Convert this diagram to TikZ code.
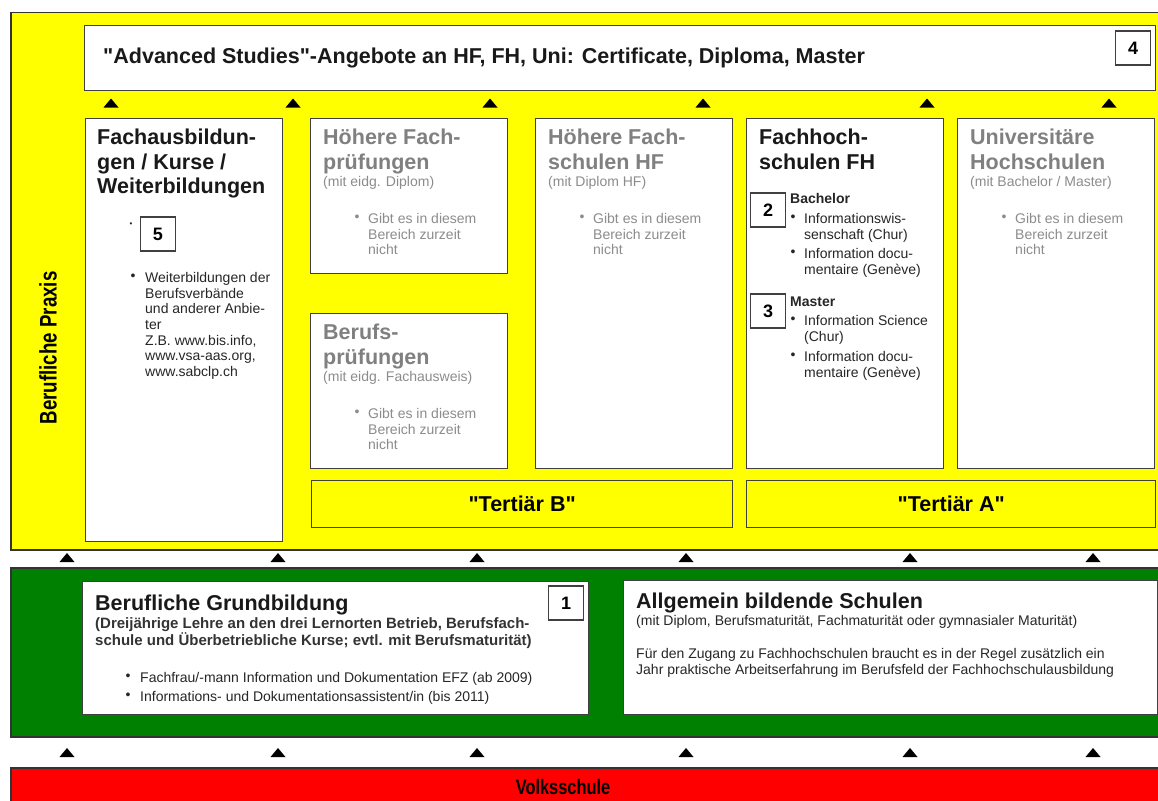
\documentclass[tikz,border=0pt]{standalone}
\usepackage{fontspec}
\setmainfont{Liberation Sans}[Ligatures=TeXOff]
\newfontfamily\narrowfont{Liberation Sans}[FakeStretch=0.78]
\usetikzlibrary{calc}
\definecolor{gelb}{HTML}{FFFF00}
\definecolor{gruen}{HTML}{008000}
\definecolor{rot}{HTML}{FF0000}
\newcommand{\fTtl}{\fontsize{21.5}{24.5}\selectfont\bfseries}
\newcommand{\fTxt}{\fontsize{14}{15.7}\selectfont}
\newcommand{\fTxtB}{\fontsize{14}{15.7}\selectfont\bfseries}
\newcommand{\fSubB}{\fontsize{15}{17}\selectfont\bfseries}
\newcommand{\fNum}{\fontsize{18}{18}\selectfont\bfseries}
\tikzset{band/.style={draw=black!80,line width=1.5pt,anchor=north west,inner sep=0pt},
  panel/.style={draw=black!75,line width=1.3pt,fill=white,anchor=north west,inner sep=0pt},
  numbox/.style={draw=black!75,line width=1.1pt,fill=white,minimum width=35pt,minimum height=34pt,inner sep=0pt,font=\fNum},
  ttl/.style={anchor=north west,align=left,inner sep=0pt,font=\fTtl,text=black!90},
  gttl/.style={ttl,text=black!50},
  txt/.style={anchor=north west,align=left,inner sep=0pt,font=\fTxt,text=black!85},
  gtxt/.style={txt,text=black!45},
  dot/.style={inner sep=0pt,font=\fTxt,text=black!85}}

\begin{document}
\begin{tikzpicture}[x=1pt,y=-1pt]
  \clip (0,0) rectangle (1158,800);

  % the three levels
  \node[band,fill=gelb,minimum width=1170pt,minimum height=537pt] (tert) at (10,12) {};
  \node[band,fill=gruen,minimum width=1170pt,minimum height=169pt] (sek) at (10,567) {};
  \node[band,fill=rot,minimum width=1170pt,minimum height=60pt] (volk) at (10,767) {};
  \node[rotate=90,font=\narrowfont\fontsize{24}{24}\selectfont\bfseries] (praxis) at (48,348) {Berufliche Praxis};
  \node[font=\narrowfont\fontsize{21}{21}\selectfont\bfseries] (volk-t) at (563,787) {Volksschule};

  % advanced studies
  \node[panel,minimum width=1071pt,minimum height=65pt] (adv) at (84,25) {};
  \node[ttl,anchor=west] (adv-t) at ($(adv.west)+(19,0)$) {"Advanced Studies"-Angebote an HF, FH, Uni: Certificate, Diploma, Master};
  \node[numbox] (n4) at (1133,48) {4};

  % tertiary boxes
  \node[panel,minimum width=197pt,minimum height=423pt] (fab) at (85,118) {};
  \node[panel,minimum width=197pt,minimum height=155pt] (hfp) at (310,118) {};
  \node[panel,minimum width=197pt,minimum height=155pt] (bp) at (310,313) {};
  \node[panel,minimum width=197pt,minimum height=350pt] (hf) at (535,118) {};
  \node[panel,minimum width=197pt,minimum height=350pt] (fh) at (746,118) {};
  \node[panel,minimum width=197pt,minimum height=350pt] (uni) at (957,118) {};
  \node[panel,fill=gelb,minimum width=421pt,minimum height=47pt] (terB) at (311,480) {};
  \node[panel,fill=gelb,minimum width=409pt,minimum height=47pt] (terA) at (746,480) {};
  \node[font=\fTtl] (terB-t) at (terB) {"Tertiär B"};
  \node[font=\fTtl] (terA-t) at (terA) {"Tertiär A"};

  % Fachausbildungen
  \node[ttl] (fab-t) at ($(fab.north west)+(12,11)$) {Fachausbildun-\\gen / Kurse /\\Weiterbildungen};
  \node[dot,font=\fontsize{8}{8}\selectfont] (fab-d) at (131,225) {\textbullet};
  \node[numbox] (n5) at (158,234) {5};
  \node[dot] (fab-b) at (133,277) {\textbullet};
  \node[txt] (fab-x) at (145,272) {Weiterbildungen der\\Berufsverbände\\und anderer Anbie-\\ter\\Z.B. www.bis.info,\\www.vsa-aas.org,\\www.sabclp.ch};

  % empty offers
  \foreach \b/\t/\s in {hfp/{Höhere Fach-\\prüfungen}/{(mit eidg. Diplom)},bp/{Berufs-\\prüfungen}/{(mit eidg. Fachausweis)},
      hf/{Höhere Fach-\\schulen HF}/{(mit Diplom HF)},uni/{Universitäre\\Hochschulen}/{(mit Bachelor / Master)}}
  {\node[gttl] (\b-t) at ($(\b.north west)+(13,11)$) {\t};
   \node[gtxt] (\b-s) at ($(\b.north west)+(13,58)$) {\s};
   \node[dot,text=black!45] (\b-d) at ($(\b.north west)+(47,100)$) {\textbullet};
   \node[gtxt] (\b-x) at ($(\b.north west)+(58,95)$) {Gibt es in diesem\\Bereich zurzeit\\nicht};}

  % Fachhochschulen
  \node[ttl] (fh-t) at ($(fh.north west)+(13,11)$) {Fachhoch-\\schulen FH};
  \node[numbox] (n2) at (768,210) {2};
  \node[numbox] (n3) at (768,311) {3};
  \node[txt,font=\fTxtB] (fh-ba) at (790,193) {Bachelor};
  \node[txt,font=\fTxtB] (fh-ma) at (790,297) {Master};
  \foreach \y/\t [count=\i] in {213/{Informationswis-\\senschaft (Chur)},248/{Information docu-\\mentaire (Genève)},
      315/{Information Science\\(Chur)},351/{Information docu-\\mentaire (Genève)}}
  {\node[dot] (fh-d\i) at (793,\y+5) {\textbullet};
   \node[txt] (fh-x\i) at (804,\y) {\t};}

  % Grundbildung
  \node[panel,minimum width=506pt,minimum height=133pt] (gb) at (82,581) {};
  \node[numbox] (n1) at (566,603) {1};
  \node[ttl] (gb-t) at (95,595) {Berufliche Grundbildung};
  \node[txt,font=\fSubB,text=black!80] (gb-s) at (95,617) {(Dreijährige Lehre an den drei Lernorten Betrieb, Berufsfach-\\schule und Überbetriebliche Kurse; evtl. mit Berufsmaturität)};
  \foreach \y/\t [count=\i] in {672/{Fachfrau/-mann Information und Dokumentation EFZ (ab 2009)},691/{Informations- und Dokumentationsassistent/in (bis 2011)}}
  {\node[dot] (gb-d\i) at (128,\y+5) {\textbullet};
   \node[txt] (gb-x\i) at (140,\y) {\t};}

  % allgemein bildende Schulen
  \node[panel,minimum width=534pt,minimum height=134pt] (abs) at (623,580) {};
  \node[ttl] (abs-t) at (636,593) {Allgemein bildende Schulen};
  \node[txt] (abs-s) at (636,615) {(mit Diplom, Berufsmaturität, Fachmaturität oder gymnasialer Maturität)};
  \node[txt] (abs-x) at (636,648) {Für den Zugang zu Fachhochschulen braucht es in der Regel zusätzlich ein\\Jahr praktische Arbeitserfahrung im Berufsfeld der Fachhochschulausbildung};

  % arrows between levels
  \foreach \x in {111,293,490,703,927,1109}
    \fill (\x-7.5,107.5) -- ++(15,0) -- ++(-7.5,-9) -- cycle;
  \foreach \y in {562,757}
    \foreach \x in {67,278,477,686,910,1093}
      \fill (\x-7.5,\y) -- ++(15,0) -- ++(-7.5,-9) -- cycle;
\end{tikzpicture}
\end{document}
